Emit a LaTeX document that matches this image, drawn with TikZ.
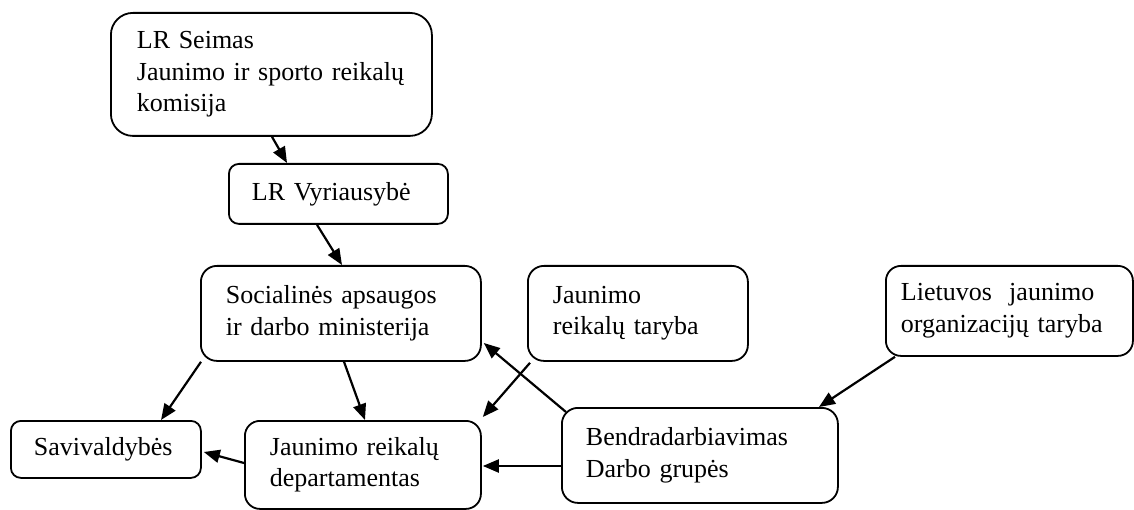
\documentclass[tikz,border=0pt]{standalone}
\usepackage{fontspec}
\setmainfont{Liberation Serif}
\usetikzlibrary{arrows.meta,calc}
\begin{document}
\begin{tikzpicture}[x=1pt,y=-1pt,
  box/.style={draw, line width=1.8pt, align=left, anchor=north west, inner ysep=0pt,
    font=\fontsize{26}{31.5}\selectfont},
  arr/.style={line width=2.2pt, -{Triangle[length=16pt,width=13pt]}}]
\useasboundingbox (0,0) rectangle (1134,510);
\node[box, rounded corners=22pt, minimum width=321pt, minimum height=123pt, inner xsep=26pt, text width=269pt] (seimas) at (110,12)
  {LR Seimas\\Jaunimo ir sporto reikalų\\komisija};
\node[box, rounded corners=10pt, minimum width=219pt, minimum height=60pt, inner xsep=23pt, text width=173pt] (vyr) at (228,163)
  {LR Vyriausybė};
\node[box, rounded corners=16pt, minimum width=280pt, minimum height=95pt, inner xsep=25pt, text width=230pt] (min) at (200,265)
  {Socialinės apsaugos\\ir darbo ministerija};
\node[box, rounded corners=16pt, minimum width=220pt, minimum height=95pt, inner xsep=25pt, text width=170pt] (taryba) at (527,265)
  {Jaunimo\\reikalų taryba};
\node[box, rounded corners=15pt, minimum width=247pt, minimum height=90pt, inner xsep=15pt, text width=217pt] (liet) at (885,265)
  {Lietuvos\ \ jaunimo\\organizacijų taryba};
\node[box, rounded corners=10pt, minimum width=190pt, minimum height=57pt, inner xsep=23pt, text width=144pt] (sav) at (10,420)
  {Savivaldybės};
\node[box, rounded corners=15pt, minimum width=236pt, minimum height=88pt, inner xsep=25pt, text width=186pt] (dep) at (244,420)
  {Jaunimo reikalų\\departamentas};
\node[box, rounded corners=16pt, minimum width=276pt, minimum height=95pt, inner xsep=24pt, text width=228pt] (bend) at (561,407)
  {Bendradarbiavimas\\Darbo grupės};
% connectors
\draw[arr] ([xshift=162pt]seimas.south west) -- ([xshift=59pt]vyr.north west);
\draw[arr] ([xshift=89pt]vyr.south west) -- ([xshift=142pt]min.north west);
\draw[arr] ([xshift=1pt]min.south west) -- ([xshift=151pt]sav.north west);
\draw[arr] ([xshift=144pt]min.south west) -- ([xshift=121pt]dep.north west);
\draw[arr] ([xshift=3pt,yshift=-1pt]taryba.south west) -- ([xshift=1pt,yshift=3pt]dep.north east);
\draw[arr] ([xshift=5pt,yshift=-5pt]bend.north west) -- ([xshift=2pt,yshift=-78pt]min.north east);
\draw[arr] ([yshift=-59pt]bend.north west) -- ([xshift=1pt,yshift=-46pt]dep.north east);
\draw[arr] ([yshift=-43pt]dep.north west) -- ([xshift=2pt,yshift=-32pt]sav.north east);
\draw[arr] ([xshift=10pt]liet.south west) -- ([xshift=258pt]bend.north west);
\end{tikzpicture}
\end{document}
